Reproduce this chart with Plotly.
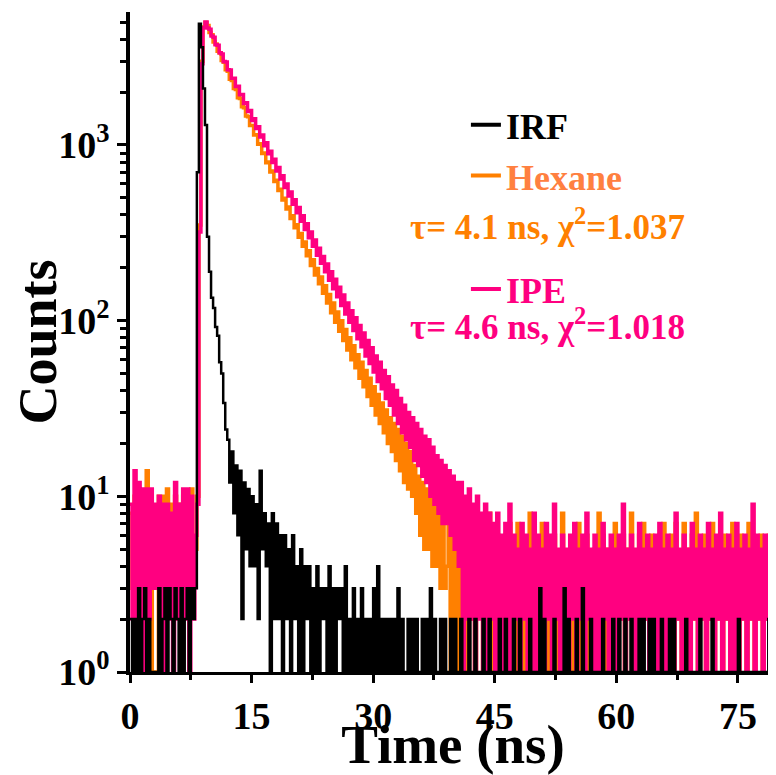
import plotly.graph_objects as go

# ---- time channels (instrument channel grid) ----
channel_width_ns = 0.25
n_channels = 320
time_ns = [round(i * channel_width_ns, 2) for i in range(n_channels)]

# ---- photon counts (20 channels = 5 ns per row) ----
irf_counts = [
    2, 1, 2, 1, 3, 1, 2, 3, 1, 2, 1, 1, 1, 1, 3, 1, 2, 3, 1, 3,
    2, 1, 3, 2, 1, 3, 1, 2, 3, 1, 3, 2, 3, 700, 4900, 3600, 2100, 1300, 300, 190,
    135, 118, 92, 82, 58, 50, 34, 24, 21, 12, 18, 8, 15, 6, 14, 2, 12, 5, 11, 4,
    10, 4, 9, 2, 14, 5, 8, 4, 7, 1, 8, 2, 7, 2, 6, 1, 6, 2, 5, 1,
    6, 2, 4, 1, 5, 1, 4, 2, 4, 1, 3, 1, 4, 1, 3, 2, 3, 1, 4, 1,
    3, 1, 3, 2, 3, 1, 4, 1, 2, 1, 3, 1, 2, 1, 3, 1, 2, 1, 2, 1,
    3, 1, 4, 1, 2, 1, 2, 1, 2, 1, 2, 1, 3, 1, 2, 1, 1, 2, 1, 2,
    1, 2, 1, 1, 2, 1, 2, 1, 3, 1, 2, 1, 1, 2, 1, 2, 1, 1, 2, 1,
    2, 1, 1, 2, 1, 1, 1, 2, 1, 1, 2, 1, 1, 1, 2, 1, 1, 2, 1, 1,
    1, 1, 2, 1, 1, 2, 1, 1, 1, 2, 1, 1, 2, 1, 1, 1, 1, 2, 1, 1,
    1, 1, 3, 1, 2, 1, 1, 1, 1, 2, 1, 1, 1, 1, 3, 1, 2, 1, 1, 1,
    2, 1, 1, 3, 1, 1, 1, 2, 1, 1, 1, 1, 1, 2, 1, 1, 1, 1, 2, 1,
    1, 2, 1, 1, 2, 1, 1, 2, 1, 1, 1, 2, 1, 2, 1, 1, 2, 1, 2, 1,
    1, 1, 2, 1, 1, 1, 2, 1, 2, 1, 1, 1, 1, 1, 2, 1, 1, 1, 1, 1,
    1, 2, 1, 1, 1, 1, 1, 2, 1, 1, 1, 1, 1, 1, 1, 1, 1, 1, 1, 1,
    2, 1, 1, 1, 1, 1, 1, 1, 1, 1, 1, 1, 1, 1, 1, 2, 1, 1, 1, 1,
]

hexane_counts = [
    8, 3, 10, 4, 11, 3, 10, 3, 14, 4, 9, 1, 1, 1, 10, 3, 10, 4, 11, 3,
    9, 2, 10, 4, 9, 3, 10, 4, 10, 3, 11, 4, 5, 10, 350, 3000, 4700, 4980, 4790, 4370,
    4240, 3860, 3760, 3420, 3340, 3030, 2960, 2680, 2630, 2370, 2330, 2100, 2070, 1860, 1840, 1650, 1630, 1460, 1450, 1290,
    1290, 1140, 1145, 1010, 1015, 895, 900, 792, 800, 702, 710, 620, 630, 550, 560, 486, 498, 432, 444, 382,
    396, 338, 352, 298, 313, 265, 280, 234, 250, 206, 222, 182, 198, 162, 177, 143, 158, 126, 141, 111,
    126, 98, 112, 87, 100, 77, 89, 68, 80, 60, 72, 54, 64, 47, 58, 42, 52, 37, 47, 33,
    42, 29, 38, 26, 34, 23, 31, 20, 28, 18, 26, 16, 24, 14, 22, 12, 20, 11, 18, 10,
    15, 8, 13, 6, 12, 5, 11, 5, 10, 4, 9, 4, 9, 3, 8, 3, 4, 8, 1, 7,
    2, 8, 1, 6, 2, 7, 1, 5, 2, 6, 1, 7, 3, 5, 1, 6, 2, 8, 1, 5,
    2, 6, 1, 5, 3, 6, 1, 7, 2, 5, 1, 7, 2, 5, 1, 4, 2, 8, 1, 6,
    2, 5, 1, 7, 2, 5, 1, 5, 3, 6, 1, 4, 2, 8, 1, 4, 2, 5, 1, 6,
    2, 7, 1, 5, 2, 6, 1, 4, 2, 5, 1, 8, 2, 6, 1, 5, 2, 5, 1, 7,
    1, 5, 2, 6, 1, 5, 2, 8, 1, 4, 2, 6, 1, 7, 2, 5, 1, 6, 2, 5,
    1, 6, 2, 7, 1, 5, 2, 6, 1, 7, 2, 4, 1, 7, 2, 5, 1, 6, 2, 8,
    1, 5, 2, 6, 1, 6, 2, 7, 1, 5, 2, 6, 1, 6, 2, 5, 1, 7, 2, 6,
    1, 6, 2, 5, 1, 7, 2, 6, 1, 5, 2, 6, 1, 5, 2, 6, 1, 5, 2, 9,
]

ipe_counts = [
    9, 2, 14, 1, 12, 2, 11, 1, 11, 2, 11, 3, 9, 3, 10, 2, 9, 1, 9, 2,
    8, 1, 12, 2, 9, 1, 11, 2, 11, 1, 10, 2, 6, 9, 320, 2900, 4650, 5020, 4640, 4560,
    4170, 4100, 3720, 3690, 3350, 3300, 2990, 2970, 2680, 2670, 2400, 2400, 2150, 2160, 1930, 1940, 1720, 1740, 1550, 1570,
    1380, 1410, 1240, 1270, 1110, 1140, 990, 1030, 890, 920, 795, 830, 712, 745, 640, 668, 572, 600, 512, 540,
    460, 488, 412, 440, 368, 395, 330, 356, 296, 320, 265, 288, 236, 258, 212, 232, 190, 210, 170, 190,
    152, 172, 137, 155, 122, 140, 109, 126, 98, 114, 88, 104, 79, 94, 71, 85, 63, 77, 57, 70,
    51, 63, 45, 58, 41, 52, 36, 48, 33, 43, 29, 40, 26, 36, 23, 33, 21, 30, 19, 28,
    16, 26, 15, 24, 13, 22, 12, 21, 10, 19, 9, 17, 8, 16, 7, 15, 7, 14, 6, 13,
    5, 12, 4, 12, 1, 10, 2, 11, 2, 9, 1, 10, 2, 8, 1, 9, 1, 8, 2, 7,
    1, 8, 2, 6, 1, 7, 1, 9, 1, 6, 2, 5, 1, 7, 2, 6, 1, 5, 1, 8,
    1, 6, 2, 5, 1, 7, 2, 6, 1, 9, 2, 5, 1, 6, 1, 5, 1, 6, 2, 7,
    1, 5, 2, 6, 1, 8, 2, 5, 1, 6, 1, 5, 1, 7, 2, 5, 1, 6, 2, 5,
    1, 6, 2, 9, 1, 5, 2, 6, 1, 5, 1, 7, 1, 5, 2, 6, 1, 5, 2, 6,
    1, 7, 2, 5, 1, 6, 2, 5, 1, 8, 2, 5, 1, 6, 1, 5, 1, 7, 2, 5,
    1, 6, 2, 5, 1, 7, 2, 5, 1, 6, 2, 8, 1, 5, 2, 6, 1, 5, 1, 7,
    1, 5, 2, 6, 1, 5, 2, 9, 1, 6, 2, 5, 1, 6, 2, 5, 1, 7, 2, 6,
]

series_names = ["IRF", "Hexane", "IPE"]
fit_labels = {
    "Hexane": "τ= 4.1 ns, χ<sup>2</sup>=1.037",
    "IPE": "τ= 4.6 ns, χ<sup>2</sup>=1.018",
}
y_tick_values = [1, 10, 100, 1000]
y_tick_labels = ["10<sup>0</sup>", "10<sup>1</sup>", "10<sup>2</sup>", "10<sup>3</sup>"]
x_tick_values = [0, 15, 30, 45, 60, 75]

line_colors = {"IRF": "#000000", "Hexane": "#FF8000", "IPE": "#FF0080"}
line_widths = {"IRF": 2.5, "Hexane": 3.5, "IPE": 3.5}
legend_text_colors = {"IRF": "#000000", "Hexane": "#FF8040", "IPE": "#FF0080"}
fit_text_colors = {"Hexane": "#FF8000", "IPE": "#FF0080"}

FONT = "Liberation Serif"
data_by_name = {"IRF": irf_counts, "Hexane": hexane_counts, "IPE": ipe_counts}

for nm, arr in data_by_name.items():
    assert len(arr) == n_channels, (nm, len(arr))

fig = go.Figure()

# draw order: Hexane (bottom), IPE, IRF (top); histogram channels drawn as steps
for nm in ["Hexane", "IPE", "IRF"]:
    fig.add_trace(go.Scatter(
        x=time_ns, y=data_by_name[nm], mode="lines", name=nm,
        line=dict(color=line_colors[nm], width=line_widths[nm], shape="hv", simplify=False),
        showlegend=False,
    ))

# legend entries (one legend box per entry so spacing follows the reference)
legend_ids = {"IRF": "legend", "Hexane": "legend2", "IPE": "legend3"}
legend_y = {"IRF": 0.829, "Hexane": 0.752, "IPE": 0.580}
for nm in series_names:
    fig.add_trace(go.Scatter(
        x=[None], y=[None], mode="lines", name=nm,
        line=dict(color=line_colors[nm], width=4),
        showlegend=True, legend=legend_ids[nm],
    ))

legend_common = dict(x=0.52, xanchor="left", yanchor="middle",
                     bgcolor="rgba(0,0,0,0)", borderwidth=0, itemwidth=30)
layout_legends = {}
for nm in series_names:
    layout_legends[legend_ids[nm]] = dict(
        legend_common, y=legend_y[nm],
        font=dict(family=FONT, size=36, color=legend_text_colors[nm], weight="bold"),
    )

annotations = []
fit_y = {"Hexane": 0.678, "IPE": 0.526}
for nm, txt in fit_labels.items():
    annotations.append(dict(
        xref="paper", yref="paper", x=0.647, y=fit_y[nm], xanchor="center", yanchor="middle",
        text=txt, showarrow=False,
        font=dict(family=FONT, size=35, color=fit_text_colors[nm], weight="bold"),
    ))

# the page body adds an 8 px offset, so the figure is drawn 8 px smaller
fig.update_layout(
    width=768, height=767,
    margin=dict(l=122, r=0, t=4, b=103, autoexpand=False),
    paper_bgcolor="white", plot_bgcolor="white",
    font=dict(family=FONT, color="black"),
    annotations=annotations,
    **layout_legends,
)

fig.update_xaxes(
    range=[0, 79.7], tickmode="array", tickvals=x_tick_values,
    ticks="outside", ticklen=8, tickwidth=3, tickcolor="black",
    minor=dict(ticks="outside", ticklen=5, tickwidth=3, tickcolor="black", dtick=7.5, tick0=0),
    showline=True, linewidth=3, linecolor="black", mirror=False,
    showgrid=False, zeroline=False,
    tickfont=dict(family=FONT, size=38, color="black", weight="bold"),
    title=dict(text="Time (ns)", font=dict(family=FONT, size=55, color="black", weight="bold"), standoff=0),
)

fig.update_yaxes(
    type="log", range=[0, 3.757], tickmode="array", tickvals=y_tick_values, ticktext=y_tick_labels,
    ticks="outside", ticklen=9, tickwidth=3, tickcolor="black",
    minor=dict(ticks="outside", ticklen=6, tickwidth=2.5, tickcolor="black", dtick="D1"),
    showline=True, linewidth=3.5, linecolor="black", mirror=False,
    showgrid=False, zeroline=False,
    tickfont=dict(family=FONT, size=38, color="black", weight="bold"),
    title=dict(text="Counts", font=dict(family=FONT, size=54, color="black", weight="bold"), standoff=0),
)

fig.write_html("out.html")
